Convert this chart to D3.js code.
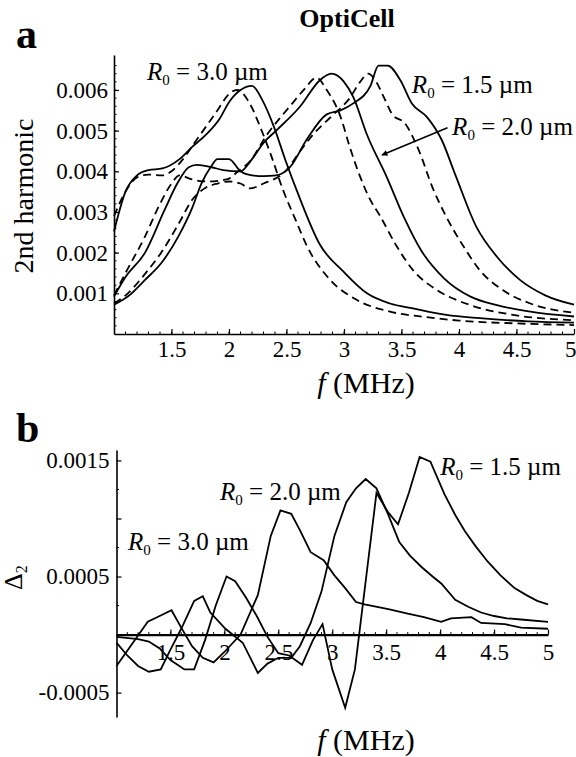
<!DOCTYPE html>
<html>
<head>
<meta charset="utf-8">
<script src="https://cdn.jsdelivr.net/npm/d3@7"></script>
<style>
  body { margin: 0; background: #fff; }
  text { font-family: "Liberation Serif", "Times New Roman", serif; fill: #000; }
</style>
</head>
<body>
<svg id="fig" width="576" height="757"></svg>
<script>
// ---- panel a: 2nd harmonic vs f (MHz), [f, value] ----
// solid = one model, dashed = the other, for each bubble radius
const s30 = [[1.0,0.00252],[1.1,0.0035],[1.2,0.0039],[1.3,0.00403],[1.42,0.00407],[1.57,0.0043],[1.68,0.0046],[1.8,0.0049],[1.92,0.0053],[2.0,0.0057],[2.1,0.006],[2.2,0.0061],[2.29,0.00575],[2.39,0.0051],[2.49,0.00428],[2.6,0.00345],[2.79,0.0022],[3.0,0.00152],[3.2,0.001],[3.4,0.00075],[3.6,0.00063],[3.89,0.00047],[4.18,0.00039],[4.6,0.00031],[5.0,0.00028]];
const d30 = [[1.0,0.0029],[1.1,0.0035],[1.2,0.00385],[1.3,0.00392],[1.42,0.0039],[1.5,0.004],[1.6,0.0043],[1.7,0.0047],[1.8,0.0051],[1.9,0.0055],[2.0,0.0059],[2.07,0.006],[2.18,0.00567],[2.27,0.0051],[2.37,0.00436],[2.47,0.00354],[2.58,0.0028],[2.68,0.00215],[2.88,0.00133],[3.11,0.00084],[3.4,0.00055],[3.7,0.00042],[4.0,0.00033],[4.5,0.00026],[5.0,0.00022]];
const s20 = [[1.0,0.00092],[1.1,0.0014],[1.27,0.002],[1.44,0.00305],[1.55,0.0037],[1.65,0.0041],[1.72,0.00416],[1.85,0.0041],[1.95,0.00403],[2.1,0.004],[2.2,0.0043],[2.3,0.0047],[2.41,0.005],[2.62,0.0056],[2.79,0.00624],[2.89,0.0064],[3.0,0.0062],[3.08,0.00583],[3.2,0.0049],[3.37,0.00387],[3.52,0.00288],[3.67,0.00206],[3.87,0.00137],[4.1,0.00092],[4.33,0.00071],[4.62,0.00055],[5.0,0.00043]];
const d20 = [[1.0,0.00095],[1.1,0.0015],[1.27,0.0024],[1.4,0.0032],[1.5,0.0037],[1.57,0.0039],[1.68,0.0038],[1.8,0.00375],[1.98,0.0038],[2.08,0.004],[2.18,0.00424],[2.33,0.0049],[2.53,0.0056],[2.65,0.006],[2.76,0.0063],[2.85,0.006],[2.97,0.00534],[3.05,0.0046],[3.14,0.00387],[3.23,0.00329],[3.31,0.00292],[3.46,0.00215],[3.6,0.00157],[3.81,0.00108],[4.1,0.00071],[4.47,0.00047],[5.0,0.00034]];
const s15 = [[1.0,0.00072],[1.12,0.00092],[1.27,0.00133],[1.41,0.00174],[1.56,0.0024],[1.68,0.0031],[1.76,0.0037],[1.84,0.0041],[1.9,0.0043],[2.0,0.0043],[2.1,0.004],[2.2,0.0039],[2.3,0.00388],[2.41,0.0039],[2.53,0.0041],[2.68,0.0048],[2.85,0.0054],[2.97,0.0055],[3.08,0.00567],[3.23,0.0061],[3.3,0.0066],[3.38,0.0066],[3.49,0.00624],[3.59,0.00567],[3.72,0.00534],[3.85,0.00477],[3.97,0.0039],[4.15,0.00264],[4.33,0.0019],[4.53,0.00133],[4.75,0.00095],[5.0,0.00072]];
const d15 = [[1.0,0.00075],[1.12,0.001],[1.27,0.00148],[1.41,0.002],[1.56,0.0027],[1.68,0.0033],[1.8,0.0036],[1.9,0.0037],[2.0,0.00375],[2.1,0.0037],[2.18,0.00358],[2.3,0.0037],[2.5,0.00403],[2.62,0.0045],[2.73,0.0049],[2.91,0.0054],[3.05,0.0058],[3.14,0.0062],[3.21,0.0064],[3.28,0.0062],[3.35,0.0058],[3.42,0.0054],[3.53,0.00518],[3.65,0.00452],[3.77,0.0036],[3.89,0.00288],[4.04,0.00215],[4.18,0.00157],[4.38,0.00108],[4.62,0.00075],[5.0,0.00052]];

// ---- panel b: Delta_2 vs f (MHz) ----
const delta15 = [[1.0,-0.00002],[1.2,-0.00004],[1.3,-0.00006],[1.4,-0.00012],[1.5,-0.00022],[1.63,-0.0003],[1.72,-0.0003],[1.82,-0.00005],[1.92,0.00025],[2.02,0.0005],[2.1,0.00046],[2.2,0.00032],[2.3,0.00016],[2.4,-0.00002],[2.5,-0.00016],[2.6,-0.00018],[2.72,-0.00026],[2.82,-0.00005],[2.91,0.00009],[3.0,-0.0003],[3.12,-0.00063],[3.21,-0.0003],[3.41,0.00122],[3.52,0.00105],[3.61,0.00095],[3.71,0.00122],[3.81,0.00153],[3.91,0.00149],[4.04,0.00121],[4.14,0.00103],[4.23,0.00089],[4.33,0.00076],[4.44,0.00063],[4.56,0.00051],[4.69,0.0004],[4.8,0.00034],[4.9,0.00029],[5.0,0.00026]];
const delta20 = [[1.0,-0.00007],[1.1,-0.00018],[1.2,-0.00027],[1.3,-0.00032],[1.41,-0.0003],[1.5,-0.00013],[1.6,0.00005],[1.72,0.00029],[1.8,0.00033],[1.87,0.00019],[2.01,0.00005],[2.17,-0.00007],[2.31,-0.00033],[2.4,-0.00025],[2.5,-0.0002],[2.62,-0.0002],[2.7,-0.0001],[2.8,0.0001],[2.9,0.00037],[3.02,0.00085],[3.13,0.00114],[3.22,0.00126],[3.31,0.00134],[3.41,0.00126],[3.52,0.00103],[3.62,0.0008],[3.72,0.00068],[3.83,0.00058],[3.93,0.0005],[4.01,0.00044],[4.14,0.0003],[4.26,0.00024],[4.38,0.00019],[4.5,0.00016],[4.62,0.00014],[4.75,0.00013],[5.0,0.00011]];
const delta30 = [[1.0,-0.00027],[1.29,0.00011],[1.4,0.00016],[1.51,0.00021],[1.6,0.00006],[1.7,-0.0001],[1.8,-0.0002],[1.9,-0.00024],[2.0,-0.00015],[2.15,0.0],[2.31,0.00034],[2.43,0.00085],[2.52,0.00107],[2.62,0.00104],[2.7,0.0009],[2.8,0.00071],[2.92,0.00064],[3.02,0.00051],[3.12,0.0004],[3.22,0.00028],[3.3,0.00026],[3.52,0.00022],[3.7,0.00018],[3.85,0.00015],[4.01,0.00011],[4.1,0.00014],[4.29,0.00015],[4.38,0.0001],[4.6,0.00009],[4.75,0.00006],[5.0,0.00005]];

// ticks
const xTicks = [1.5, 2, 2.5, 3, 3.5, 4, 4.5, 5];
const xTickLabels = ['1.5', '2', '2.5', '3', '3.5', '4', '4.5', '5'];
const yTicksA = [0.001, 0.002, 0.003, 0.004, 0.005, 0.006];
const yTicksB = [-0.0005, 0, 0.0005, 0.001, 0.0015];
const yLabelsB = ['-0.0005', '', '0.0005', '', '0.0015'];

// radius labels, anchored in data units [f, value]
const labelsA = [{ r: '3.0', at: [1.287, 0.00625] }, { r: '1.5', at: [3.59, 0.00593] }, { r: '2.0', at: [3.94, 0.00489] }];
const arrowA = [[3.9, 0.00507], [3.33, 0.0044]];
const labelsB = [{ r: '1.5', at: [4.0, 0.001375] }, { r: '2.0', at: [1.96, 0.00116] }, { r: '3.0', at: [1.107, 0.00073] }];

const svg = d3.select('#fig');
svg.append('rect').attr('width', 576).attr('height', 757).attr('fill', '#fff');

const xA = d3.scaleLinear().domain([1, 5]).range([114, 574]);
const yA = d3.scaleLinear().domain([0, 0.00686]).range([334, 55]);
const xB = d3.scaleLinear().domain([1, 5]).range([116.5, 548]);
const yB = d3.scaleLinear().domain([-0.00071, 0.00159]).range([717, 450]);

function styleAxis(g, w) {
  g.select('.domain').attr('stroke', '#000').attr('stroke-width', w);
  g.selectAll('.tick line').attr('stroke', '#000').attr('stroke-width', 1.2);
  g.selectAll('.tick text').attr('font-size', 23);
}

// minor ticks helper
function minor(g, scale, vals, len, horizontal, base) {
  g.selectAll(null).data(vals).enter().append('line')
    .attr('stroke', '#000').attr('stroke-width', 1)
    .attr('x1', d => horizontal ? scale(d) : base)
    .attr('x2', d => horizontal ? scale(d) : base + len)
    .attr('y1', d => horizontal ? base : scale(d))
    .attr('y2', d => horizontal ? base - len : scale(d));
}

// ---------- panel a ----------
const gA = svg.append('g');
const axA = gA.append('g').attr('transform', `translate(0,${yA(0)})`)
  .call(d3.axisBottom(xA).tickValues(xTicks).tickSize(-5).tickSizeOuter(0).tickPadding(7)
    .tickFormat((d, i) => xTickLabels[i]));
styleAxis(axA, 1.6);
// last label sits at the window edge: keep it inside
axA.selectAll('.tick text').filter(d => d === 5).attr('text-anchor', 'end').attr('x', 2);
const ayA = gA.append('g').attr('transform', `translate(${xA(1)},0)`)
  .call(d3.axisLeft(yA).tickValues(yTicksA).tickSize(-5).tickSizeOuter(0).tickPadding(6)
    .tickFormat(d3.format('.3f')));
styleAxis(ayA, 1.6);
minor(gA, xA, d3.range(1.1, 4.95, 0.1), 2.5, true, yA(0));
minor(gA, yA, d3.range(0.0002, 0.0068, 0.0002), 2.5, false, xA(1));

const lineA = d3.line().x(d => xA(d[0])).y(d => yA(d[1])).curve(d3.curveMonotoneX);
[[s30, false], [d30, true], [s20, false], [d20, true], [s15, false], [d15, true]].forEach(([data, dashed]) => {
  gA.append('path').datum(data).attr('d', lineA)
    .attr('fill', 'none').attr('stroke', '#000').attr('stroke-width', 1.8)
    .attr('stroke-dasharray', dashed ? '8,5' : null);
});

function radiusLabel(g, x, y, r) {
  const t = g.append('text').attr('x', x).attr('y', y).attr('font-size', 25);
  t.append('tspan').attr('font-style', 'italic').text('R');
  t.append('tspan').attr('font-size', 15).attr('dy', 5).text('0');
  t.append('tspan').attr('dy', -5).text(` = ${r} µm`);
}
labelsA.forEach(l => radiusLabel(gA, xA(l.at[0]), yA(l.at[1]), l.r));

// arrow to the R0 = 2.0 pair
svg.append('defs').append('marker').attr('id', 'ah').attr('viewBox', '0 0 10 10')
  .attr('refX', 9).attr('refY', 5).attr('markerWidth', 7).attr('markerHeight', 6)
  .attr('markerUnits', 'userSpaceOnUse').attr('orient', 'auto')
  .append('path').attr('d', 'M0,0L10,5L0,10z').attr('fill', '#000');
gA.append('line')
  .attr('x1', xA(arrowA[0][0])).attr('y1', yA(arrowA[0][1]))
  .attr('x2', xA(arrowA[1][0])).attr('y2', yA(arrowA[1][1]))
  .attr('stroke', '#000').attr('stroke-width', 1.5).attr('marker-end', 'url(#ah)');

gA.append('text').attr('x', 347).attr('y', 27).attr('text-anchor', 'middle')
  .attr('font-size', 26).attr('font-weight', 'bold').text('OptiCell');
gA.append('text').attr('x', 16).attr('y', 48).attr('font-size', 42).attr('font-weight', 'bold').text('a');
gA.append('text').attr('transform', 'translate(33,196) rotate(-90)').attr('text-anchor', 'middle')
  .attr('font-size', 28).text('2nd harmonic');
const fa = gA.append('text').attr('x', 366).attr('y', 393).attr('text-anchor', 'middle').attr('font-size', 30);
fa.append('tspan').attr('font-style', 'italic').text('f');
fa.append('tspan').text(' (MHz)');

// ---------- panel b ----------
const gB = svg.append('g');
const axB = gB.append('g').attr('transform', `translate(0,${yB(0)})`)
  .call(d3.axisBottom(xB).tickValues(xTicks).tickSize(-5).tickSizeOuter(0).tickPadding(9)
    .tickFormat((d, i) => xTickLabels[i]));
styleAxis(axB, 2.4);
const ayB = gB.append('g').attr('transform', `translate(${xB(1)},0)`)
  .call(d3.axisLeft(yB).tickValues(yTicksB).tickSize(-5).tickSizeOuter(0).tickPadding(7)
    .tickFormat((d, i) => yLabelsB[i]));
styleAxis(ayB, 1.6);
minor(gB, xB, d3.range(1.1, 4.95, 0.1), 2.5, true, yB(0));
minor(gB, yB, [-0.00025, 0.00025, 0.00075, 0.00125], 2.5, false, xB(1));

const lineB = d3.line().x(d => xB(d[0])).y(d => yB(d[1]));
[delta15, delta20, delta30].forEach(data => {
  gB.append('path').datum(data).attr('d', lineB)
    .attr('fill', 'none').attr('stroke', '#000').attr('stroke-width', 1.8);
});
labelsB.forEach(l => radiusLabel(gB, xB(l.at[0]), yB(l.at[1]), l.r));

gB.append('text').attr('x', 16).attr('y', 442).attr('font-size', 42).attr('font-weight', 'bold').text('b');
const dl = gB.append('text').attr('transform', 'translate(22,590) rotate(-90)').attr('font-size', 26);
dl.append('tspan').text('Δ');
dl.append('tspan').attr('font-size', 16).attr('dy', 5).text('2');
const fb = gB.append('text').attr('x', 366).attr('y', 750).attr('text-anchor', 'middle').attr('font-size', 30);
fb.append('tspan').attr('font-style', 'italic').text('f');
fb.append('tspan').text(' (MHz)');
</script>
</body>
</html>
